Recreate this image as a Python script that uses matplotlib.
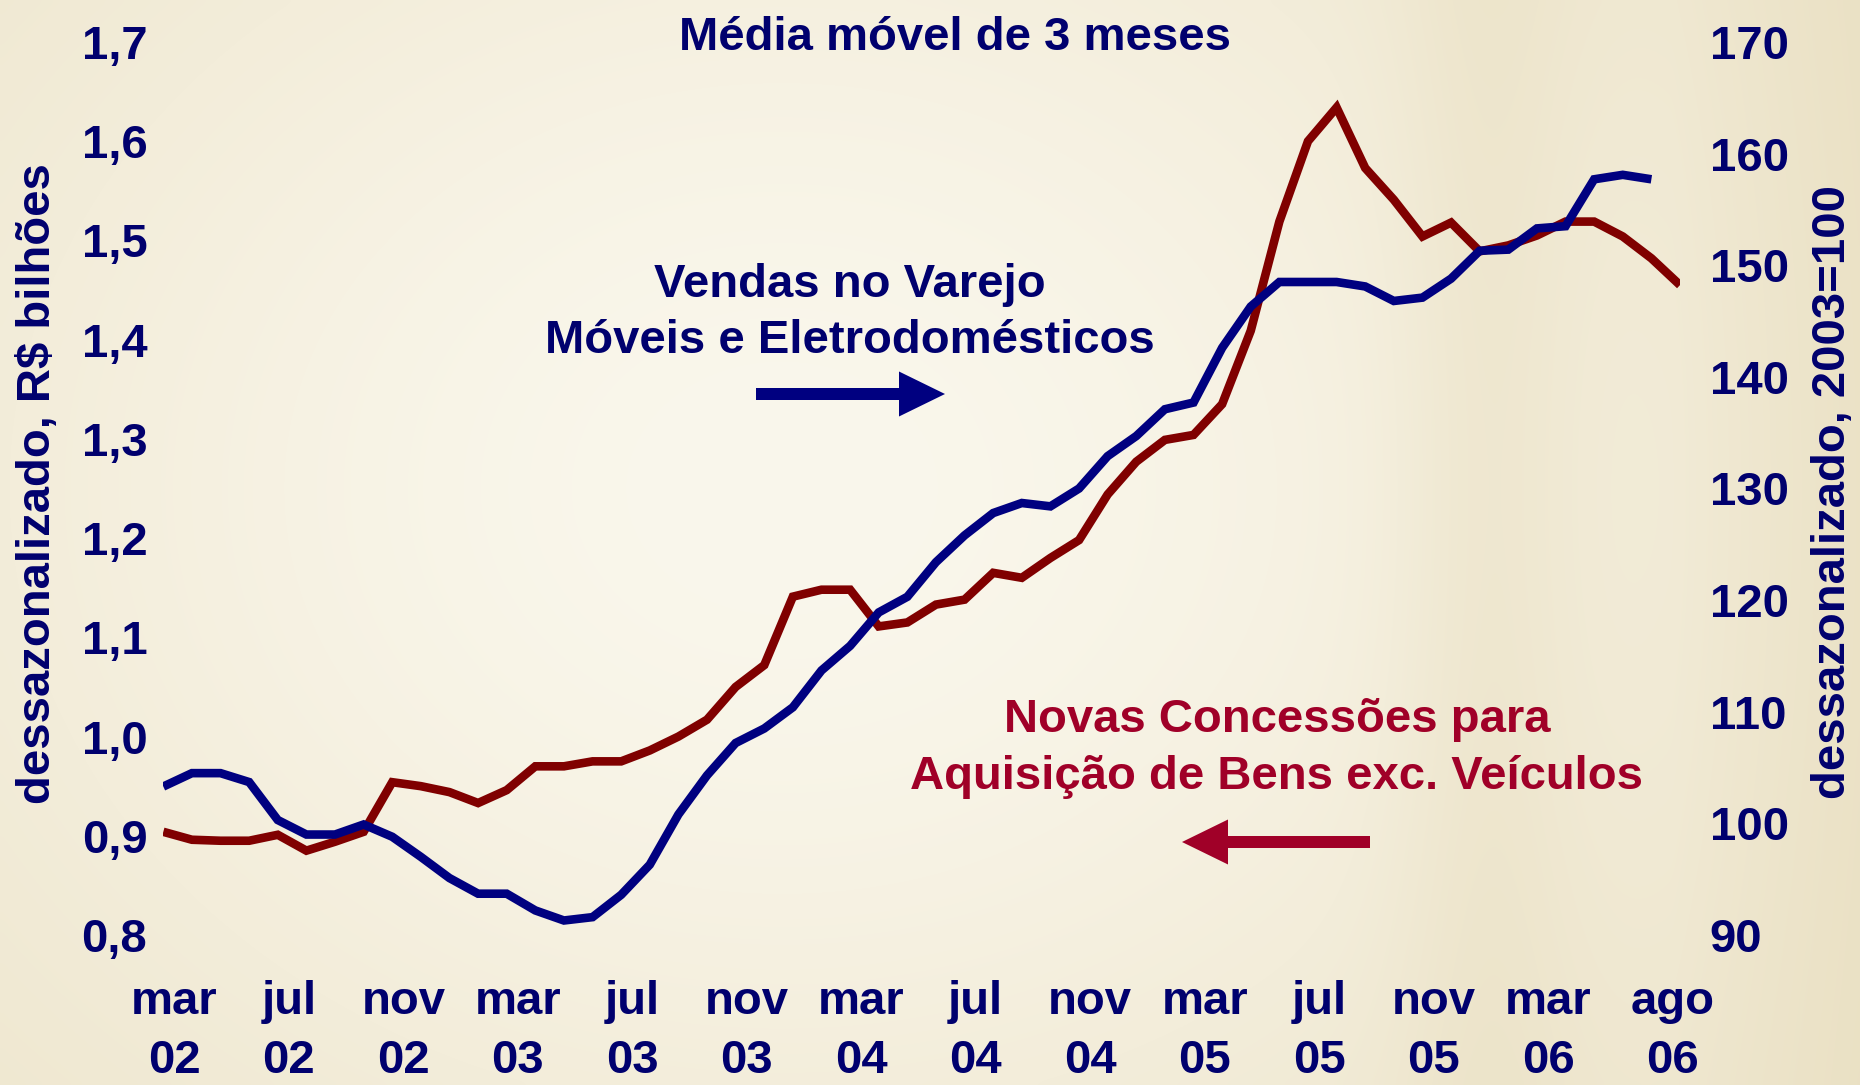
import matplotlib
matplotlib.use("Agg")
import matplotlib.pyplot as plt
import numpy as np
import pandas as pd
from matplotlib.patches import Polygon
from matplotlib.transforms import ScaledTranslation

plt.rcParams['font.family'] = ['Liberation Sans', 'DejaVu Sans']
plt.rcParams['font.weight'] = 'bold'

# ---------------- data ----------------
months = pd.period_range('2002-03', '2006-08', freq='M')

# Novas Concessões para Aquisição de Bens exc. Veículos (R$ bilhões, left axis)
credito = [0.904, 0.896, 0.895, 0.895, 0.901, 0.885, 0.894, 0.904, 0.954, 0.950,
           0.944, 0.933, 0.946, 0.970, 0.970, 0.975, 0.975, 0.986, 1.000, 1.017,
           1.050, 1.072, 1.141, 1.148, 1.148, 1.111, 1.115, 1.133, 1.138, 1.165,
           1.160, 1.180, 1.198, 1.244, 1.277, 1.299, 1.304, 1.335, 1.409, 1.519,
           1.600, 1.634, 1.573, 1.541, 1.504, 1.518, 1.489, 1.495, 1.505, 1.519,
           1.519, 1.504, 1.482, 1.455]

# Vendas no Varejo - Móveis e Eletrodomésticos (2003=100, right axis)
varejo = [103.3, 104.5, 104.5, 103.7, 100.3, 99.0, 99.0, 99.9, 98.8, 97.0,
          95.1, 93.7, 93.7, 92.2, 91.3, 91.6, 93.6, 96.3, 100.8, 104.3,
          107.2, 108.5, 110.4, 113.7, 115.9, 118.9, 120.3, 123.4, 125.8, 127.8,
          128.7, 128.4, 130.0, 132.9, 134.7, 137.1, 137.7, 142.6, 146.3, 148.5,
          148.5, 148.5, 148.1, 146.8, 147.1, 148.8, 151.3, 151.4, 153.3, 153.5,
          157.7, 158.1, 157.7]

tick_idx = [0, 4, 8, 12, 16, 20, 24, 28, 32, 36, 40, 44, 48, 53]
tick_mon = ['mar', 'jul', 'nov', 'mar', 'jul', 'nov', 'mar', 'jul', 'nov',
            'mar', 'jul', 'nov', 'mar', 'ago']
tick_year = ['02', '02', '02', '03', '03', '03', '04', '04', '04',
             '05', '05', '05', '06', '06']

left_ticks = [0.8, 0.9, 1.0, 1.1, 1.2, 1.3, 1.4, 1.5, 1.6, 1.7]
right_ticks = [90, 100, 110, 120, 130, 140, 150, 160, 170]

# ---------------- style ----------------
NAVY_TXT = '#00006e'
NAVY = '#000080'
RED_LINE = '#800000'
RED_TXT = '#a00028'
FS = 34

W, H = 1860, 1085
fig = plt.figure(figsize=(W / 100, H / 100), dpi=100)

# background
bg = fig.add_axes([0, 0, 1, 1], zorder=-10)
yy, xx = np.mgrid[0:1:200j, 0:1:340j]
w = np.exp(-(((xx - 0.42) / 0.50) ** 2 + ((yy - 0.45) / 0.70) ** 2))
band = np.exp(-((xx - 0.80) / 0.05) ** 2) * 0.35 + np.clip((xx - 0.9) / 0.1, 0, 1) * 0.45
light = np.array([250, 247, 236]) / 255
dark = np.array([236, 227, 200]) / 255
tan = np.array([230, 219, 186]) / 255
img = light * w[..., None] + dark * (1 - w[..., None])
img = img * (1 - band[..., None]) + tan * band[..., None]
bg.imshow(img, aspect='auto', extent=[0, 1, 0, 1], interpolation='bicubic')
bg.axis('off')

# main axes
x0, x1 = 163.3, 1680.0
y_bot, y_top = 935.0, 42.0
ax = fig.add_axes([x0 / W, (H - y_bot) / H, (x1 - x0) / W, (y_bot - y_top) / H])
ax.patch.set_alpha(0)
ax2 = ax.twinx()

x_red = np.arange(len(credito))
x_blue = np.arange(len(varejo))
ax.plot(x_red, credito, color=RED_LINE, lw=6.2, solid_joinstyle='miter',
        solid_capstyle='butt', zorder=3)
ax2.plot(x_blue, varejo, color=NAVY, lw=6.2, solid_joinstyle='miter',
         solid_capstyle='butt', zorder=4)

ax.set_xlim(0, len(months) - 1)
ax.set_ylim(0.8, 1.7)
ax2.set_ylim(90, 170)

for a in (ax, ax2):
    for s in a.spines.values():
        s.set_visible(False)

ax.set_yticks(left_ticks)
ax.set_yticklabels([f"{v:.1f}".replace('.', ',') for v in left_ticks])
ax2.set_yticks(right_ticks)
ax2.set_yticklabels([str(v) for v in right_ticks])
ax.tick_params(axis='y', length=0, pad=11.5, labelsize=FS, labelcolor=NAVY_TXT)
ax2.tick_params(axis='y', length=0, pad=21.5, labelsize=FS, labelcolor=NAVY_TXT)
for lab in ax.get_yticklabels() + ax2.get_yticklabels():
    lab.set_fontweight('bold')

# x axis labels (two rows)
ax.set_xticks(tick_idx)
ax.set_xticklabels([])
ax.tick_params(axis='x', length=0)
xt = ax.get_xaxis_transform()
axh = y_bot - y_top
for i, (ti, m, yr) in enumerate(zip(tick_idx, tick_mon, tick_year)):
    dx = 8.0 if i < len(tick_idx) - 1 else -5.5
    tr = xt + ScaledTranslation(dx / 72, 0, fig.dpi_scale_trans)
    ax.text(ti, -79 / axh, m, transform=tr, ha='center', va='baseline',
            fontsize=FS, fontweight='bold', color=NAVY_TXT)
    ax.text(ti, -138 / axh, yr, transform=tr, ha='center', va='baseline',
            fontsize=FS, fontweight='bold', color=NAVY_TXT)

# axis titles
fig.text(38 / W, (H - 484) / H, 'dessazonalizado, R$ bilhões', rotation=90,
         ha='center', va='center', fontsize=FS, fontweight='bold', color=NAVY_TXT)
fig.text(1833 / W, (H - 492) / H, 'dessazonalizado, 2003=100', rotation=90,
         ha='center', va='center', fontsize=FS, fontweight='bold', color=NAVY_TXT)

# title
fig.text(955 / W, (H - 50) / H, 'Média móvel de 3 meses', ha='center', va='baseline',
         fontsize=FS, fontweight='bold', color=NAVY_TXT)

# annotations
fig.text(850 / W, (H - 296.7) / H, 'Vendas no Varejo', ha='center', va='baseline',
         fontsize=FS, fontweight='bold', color=NAVY_TXT)
fig.text(850 / W, (H - 353.3) / H, 'Móveis e Eletrodomésticos', ha='center', va='baseline',
         fontsize=FS, fontweight='bold', color=NAVY_TXT)
fig.text(1277 / W, (H - 731.7) / H, 'Novas Concessões para', ha='center', va='baseline',
         fontsize=FS, fontweight='bold', color=RED_TXT)
fig.text(1277 / W, (H - 789) / H, 'Aquisição de Bens exc. Veículos', ha='center',
         va='baseline', fontsize=FS, fontweight='bold', color=RED_TXT)


def arrow(tail, tip, yc, shaft=12, head_w=45, head_l=46, color='k'):
    d = 1 if tip > tail else -1
    base = tip - d * head_l
    pts = [(tail, yc - shaft / 2), (base, yc - shaft / 2), (base, yc - head_w / 2),
           (tip, yc), (base, yc + head_w / 2), (base, yc + shaft / 2),
           (tail, yc + shaft / 2)]
    pts = [(px / W, (H - py) / H) for px, py in pts]
    fig.patches.append(Polygon(pts, closed=True, transform=fig.transFigure,
                               facecolor=color, edgecolor='none', zorder=5))


arrow(756, 945, 394, color=NAVY)
arrow(1370, 1182, 842, color=RED_TXT)

fig.savefig('out.png', dpi=100)
